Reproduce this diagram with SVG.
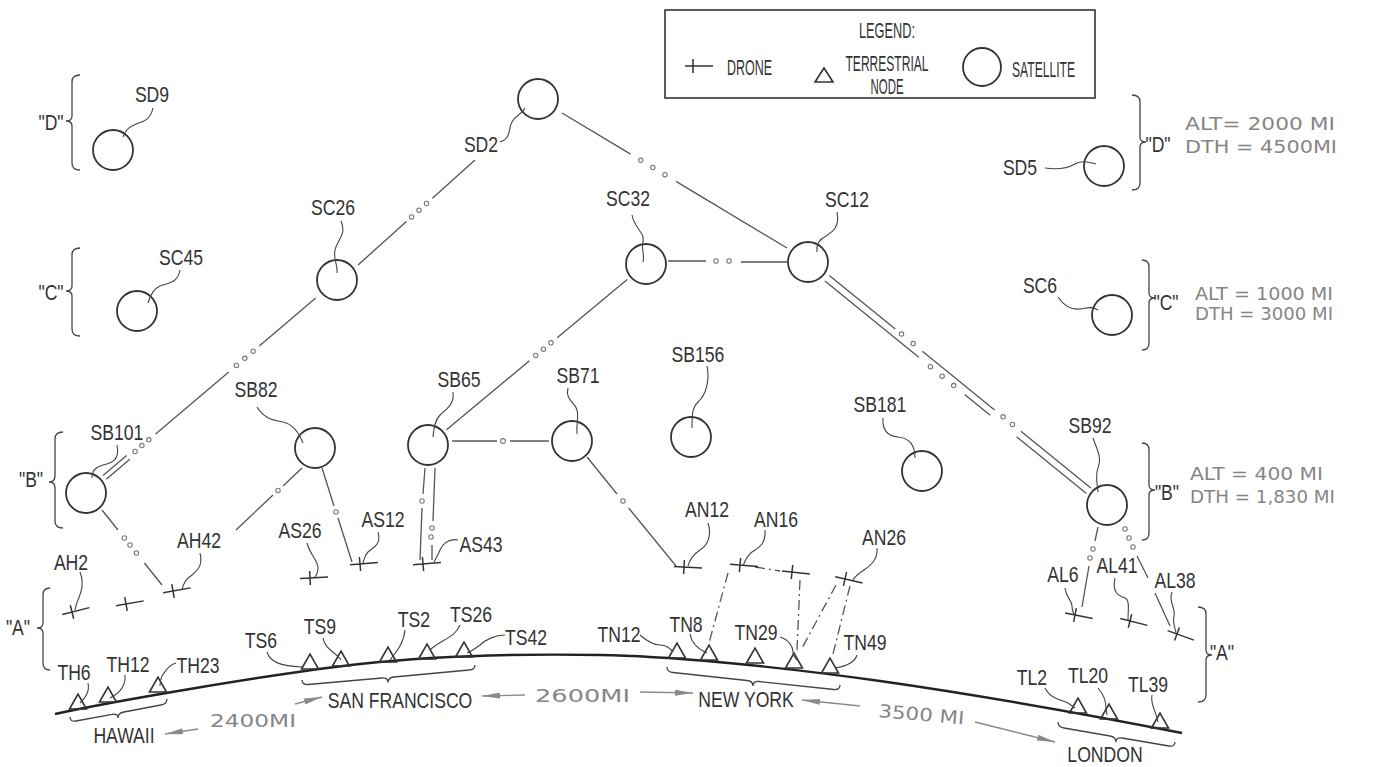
<svg xmlns="http://www.w3.org/2000/svg" width="1377" height="767" viewBox="0 0 1377 767">
<style>
text{font-family:"Liberation Sans",Arial,sans-serif;font-size:22px;fill:#333;text-anchor:middle}
text:not(.hw):not(.lg){transform-box:fill-box;transform-origin:50% 50%;transform:scaleX(0.8)}
.st{text-anchor:start}
.hw{font-family:"DejaVu Sans","Liberation Sans",sans-serif;font-size:18px;fill:#858585;text-anchor:start}
.sat{fill:none;stroke:#333;stroke-width:1.8}
.ln{fill:none;stroke:#555;stroke-width:1.3}
.ld{fill:none;stroke:#444;stroke-width:1.1}
.dot{fill:none;stroke:#777;stroke-width:1.1}
.tri{fill:none;stroke:#333;stroke-width:1.6}
.dr{fill:none;stroke:#333;stroke-width:1.5}
.br{fill:none;stroke:#444;stroke-width:1.3}
.dd{fill:none;stroke:#555;stroke-width:1.3;stroke-dasharray:10 4 2 4}
.earth{fill:none;stroke:#222;stroke-width:2.4}
.arr{fill:none;stroke:#8a8a8a;stroke-width:1.4}
</style>
<defs>
<path id="drone" d="M-10,0 H18 M0,-7 V7"/>
<path id="tri" d="M-8.5,0 L0,-15 L8.5,0 Z"/>
<marker id="ah" viewBox="0 0 18 6" refX="18" refY="3" markerWidth="18" markerHeight="6" orient="auto" markerUnits="userSpaceOnUse"><path d="M0,0 L18,3 L0,6 Z" fill="#8a8a8a"/></marker>
</defs>
<rect width="1377" height="767" fill="#fff"/>

<g id="legend">
<rect x="665" y="10" width="430" height="88" fill="none" stroke="#333" stroke-width="1.6"/>
<text class="lg" x="887" y="38" textLength="56" lengthAdjust="spacingAndGlyphs">LEGEND:</text>
<path class="dr" d="M685,66 H713 M693,59 V73"/>
<text class="lg st" x="727" y="75" textLength="45" lengthAdjust="spacingAndGlyphs">DRONE</text>
<path class="tri" d="M815,82 L824,68 L833,82 Z"/>
<text class="lg" x="887" y="71" textLength="83" lengthAdjust="spacingAndGlyphs">TERRESTRIAL</text>
<text class="lg" x="887" y="94" textLength="33" lengthAdjust="spacingAndGlyphs">NODE</text>
<circle class="sat" cx="982" cy="67" r="19"/>
<text class="lg st" x="1012" y="77" textLength="63" lengthAdjust="spacingAndGlyphs">SATELLITE</text>
</g>

<g id="connectors">
<path class="ln" d="M358,265 L406.4,221.6 M432.4,198.2 L475,160"/>
<circle class="dot" cx="411.6" cy="216.9" r="2.2"/><circle class="dot" cx="419" cy="210.2" r="2.2"/><circle class="dot" cx="426.5" cy="203.5" r="2.2"/>
<path class="ln" d="M562,113 L630.6,154.1 M676,181.4 L787,248"/>
<circle class="dot" cx="640.8" cy="160.3" r="2.2"/><circle class="dot" cx="652.8" cy="167.5" r="2.2"/><circle class="dot" cx="664.9" cy="174.7" r="2.2"/>
<path class="ln" d="M668,261 H706 M741,262 H787"/>
<circle class="dot" cx="716" cy="261" r="2.2"/><circle class="dot" cx="729" cy="261" r="2.2"/>
<path class="ln" d="M829.3,275.5 L895.3,329.1 M922.4,351.2 L994.6,409.9 M1020.9,431.3 L1090.8,488.1 M824.9,280.9 L918.8,357.2 M964.6,394.5 L990.2,415.3 M1016.6,436.7 L1086.4,493.5"/>
<circle class="dot" cx="901.5" cy="334.1" r="2.2"/><circle class="dot" cx="913.1" cy="343.6" r="2.2"/>
<circle class="dot" cx="1003.1" cy="416.8" r="2.2"/><circle class="dot" cx="1012.4" cy="424.4" r="2.2"/>
<circle class="dot" cx="930.4" cy="366.7" r="2.2"/><circle class="dot" cx="942.1" cy="376.2" r="2.2"/><circle class="dot" cx="953.7" cy="385.6" r="2.2"/>
<path class="ln" d="M315.7,298.1 L259.3,346 M228.8,371.9 L155.6,434 M126.6,455.4 L103,475.4 M129.8,459.2 L106.2,479.2"/>
<circle class="dot" cx="253.2" cy="351.2" r="2.2"/><circle class="dot" cx="244.8" cy="358.3" r="2.2"/><circle class="dot" cx="236.4" cy="365.4" r="2.2"/>
<circle class="dot" cx="148.8" cy="439.8" r="2.2"/><circle class="dot" cx="141.9" cy="445.6" r="2.2"/><circle class="dot" cx="135.1" cy="451.5" r="2.2"/>
<path class="ln" d="M102,510 L118,530 M144.4,563 L162,585"/>
<circle class="dot" cx="124.4" cy="538" r="2.2"/><circle class="dot" cx="130" cy="545" r="2.2"/><circle class="dot" cx="136.4" cy="553" r="2.2"/>
<path class="ln" d="M302,468 L283,486 M273,495 L236,530"/>
<circle class="dot" cx="278" cy="490.5" r="2.2"/>
<path class="ln" d="M322,468 L334,506 M338,518 L352,562"/>
<circle class="dot" cx="336" cy="512" r="2.2"/>
<path class="ln" d="M446.5,429.7 L529.5,360.7 M557.2,337.7 L627.2,279.5"/>
<circle class="dot" cx="535.7" cy="355.5" r="2.2"/><circle class="dot" cx="543.4" cy="349.2" r="2.2"/><circle class="dot" cx="551" cy="342.8" r="2.2"/>
<path class="ln" d="M452,441 H497 M510,441 H549"/>
<circle class="dot" cx="503" cy="441" r="2.4"/>
<path class="ln" d="M425,468 L423,494 M422,508 L420,560 M435,468 L433,521 M432,545 L432,560"/>
<circle class="dot" cx="422" cy="501" r="2.2"/><circle class="dot" cx="432" cy="528" r="2.2"/><circle class="dot" cx="431" cy="537" r="2.2"/>
<path class="ln" d="M587,457 L617,494 M628.7,508 L676,566"/>
<circle class="dot" cx="623" cy="501" r="2.2"/>
<path class="dd" d="M728,573 L709,643 M755,567 L780,571 M800,580 L797,650 M836,585 L801,650 M850,586 L832,658"/>
<path class="ln" d="M1098,527 L1095,541 M1089,566 L1082,607"/>
<circle class="dot" cx="1093" cy="549" r="2.2"/><circle class="dot" cx="1090" cy="558" r="2.2"/>
<path class="ln" d="M1137,556 L1148,578 M1155,593 L1170,626"/>
<circle class="dot" cx="1125" cy="529" r="2.2"/><circle class="dot" cx="1129" cy="538" r="2.2"/><circle class="dot" cx="1133" cy="547" r="2.2"/>
</g>

<g id="SD9"><circle class="sat" cx="113" cy="150" r="20"/><text x="152" y="102">SD9</text><path class="ld" d="M153,108 C150,122 140,122 134,125 C127,128 125,132 123,137"/></g>
<g id="SC45"><circle class="sat" cx="137" cy="311" r="20"/><text x="181" y="265">SC45</text><path class="ld" d="M180,270 C178,283 168,283 160,286 C153,289 150,296 148,303"/></g>
<g id="SC26"><circle class="sat" cx="337" cy="280" r="20"/><text x="333" y="215">SC26</text><path class="ld" d="M341,221 C347,235 337,240 335,250 C333,260 338,264 337,273"/></g>
<g id="SD2"><circle class="sat" cx="538" cy="99" r="20"/><text x="481" y="152">SD2</text><path class="ld" d="M500,142 C512,138 508,128 512,122 C515,115 522,115 525,108"/></g>
<g id="SC32"><circle class="sat" cx="646" cy="264" r="20"/><text x="628" y="206">SC32</text><path class="ld" d="M632,215 C634,228 645,232 643,242 C641,250 645,255 643,262"/></g>
<g id="SC12"><circle class="sat" cx="808" cy="262" r="20"/><text x="847" y="207">SC12</text><path class="ld" d="M837,212 C840,228 832,232 826,236 C818,240 816,245 817,252"/></g>
<g id="SD5"><circle class="sat" cx="1104" cy="166" r="20"/><text x="1020" y="175">SD5</text><path class="ld" d="M1045,168 C1058,170 1068,168 1075,164 C1082,160 1088,162 1096,164"/></g>
<g id="SC6"><circle class="sat" cx="1112" cy="315" r="20"/><text x="1040" y="293">SC6</text><path class="ld" d="M1058,297 C1064,306 1072,310 1080,309 C1088,308 1092,306 1098,310"/></g>
<g id="SB101"><circle class="sat" cx="86" cy="493" r="20"/><text x="117" y="440">SB101</text><path class="ld" d="M117,445 C120,460 112,463 103,465 C96,467 92,470 92,478"/></g>
<g id="SB82"><circle class="sat" cx="315" cy="448" r="20"/><text x="256" y="397">SB82</text><path class="ld" d="M257,407 C265,420 275,420 283,422 C292,424 298,430 303,443"/></g>
<g id="SB65"><circle class="sat" cx="428" cy="445" r="20"/><text x="459" y="387">SB65</text><path class="ld" d="M453,392 C455,405 445,410 440,415 C435,420 434,428 433,437"/></g>
<g id="SB71"><circle class="sat" cx="572" cy="441" r="20"/><text x="578" y="383">SB71</text><path class="ld" d="M568,388 C565,400 575,402 577,410 C579,418 576,425 577,434"/></g>
<g id="SB156"><circle class="sat" cx="691" cy="437" r="20"/><text x="698" y="362">SB156</text><path class="ld" d="M707,366 C710,380 706,395 698,402 C692,408 692,415 692,428"/></g>
<g id="SB181"><circle class="sat" cx="922" cy="471" r="20"/><text x="880" y="412">SB181</text><path class="ld" d="M883,418 C882,430 888,436 898,437 C910,438 915,445 915,458"/></g>
<g id="SB92"><circle class="sat" cx="1107" cy="505" r="20"/><text x="1090" y="433">SB92</text><path class="ld" d="M1093,438 C1098,452 1102,458 1098,468 C1095,476 1097,482 1098,492"/></g>

<g id="AH2"><use href="#drone" class="dr" transform="translate(72,612) rotate(-14)"/><text x="71" y="570">AH2</text><path class="ld" d="M80,572 C85,585 80,595 78,600 C76,604 76,606 75,610"/></g>
<g id="drone-h"><use href="#drone" class="dr" transform="translate(126,604) rotate(-10)"/></g>
<g id="AH42"><use href="#drone" class="dr" transform="translate(173,591) rotate(-10)"/><text x="199" y="548">AH42</text><path class="ld" d="M200,553 C203,565 198,570 192,575 C186,579 183,583 182,590"/></g>
<g id="AS26"><use href="#drone" class="dr" transform="translate(310,578) rotate(-3)"/><text x="300" y="538">AS26</text><path class="ld" d="M307,543 C310,555 318,560 318,568 C318,573 316,576 314,578"/></g>
<g id="AS12"><use href="#drone" class="dr" transform="translate(360,564) rotate(-5)"/><text x="383" y="527">AS12</text><path class="ld" d="M378,532 C382,545 372,548 368,552 C364,556 364,560 363,563"/></g>
<g id="AS43"><use href="#drone" class="dr" transform="translate(423,564) rotate(-5)"/><text x="481" y="552">AS43</text><path class="ld" d="M458,540 C448,538 442,545 440,550 C438,555 436,558 434,562"/></g>
<g id="AN12"><use href="#drone" class="dr" transform="translate(684,567) rotate(3)"/><text x="707" y="517">AN12</text><path class="ld" d="M708,523 C712,535 708,545 700,550 C694,554 690,558 688,566"/></g>
<g id="AN16"><use href="#drone" class="dr" transform="translate(740,565) rotate(5)"/><use href="#drone" class="dr" transform="translate(792,572) rotate(6)"/><text x="776" y="527">AN16</text><path class="ld" d="M765,530 C766,545 758,548 752,552 C747,556 745,560 743,566"/></g>
<g id="AN26"><use href="#drone" class="dr" transform="translate(845,579) rotate(13)"/><text x="884" y="545">AN26</text><path class="ld" d="M877,548 C878,560 870,566 864,570 C858,574 855,576 853,580"/></g>
<g id="AL6"><use href="#drone" class="dr" transform="translate(1075,615) rotate(11)"/><text x="1063" y="582">AL6</text><path class="ld" d="M1065,588 C1066,598 1072,600 1072,606 C1072,610 1073,612 1074,615"/></g>
<g id="AL41"><use href="#drone" class="dr" transform="translate(1130,621) rotate(14)"/><text x="1117" y="573">AL41</text><path class="ld" d="M1115,578 C1112,592 1118,596 1125,598 C1130,600 1128,610 1128,620"/></g>
<g id="AL38"><use href="#drone" class="dr" transform="translate(1177,634) rotate(20)"/><text x="1175" y="588">AL38</text><path class="ld" d="M1172,592 C1168,602 1176,608 1174,616 C1172,624 1176,628 1176,634"/></g>

<g id="earth"><path class="earth" d="M55,714 C110,702 270,674 360,664 S540,654 600,655 S760,664 880,681 S1100,717 1182,733"/></g>

<g id="TH6"><use href="#tri" class="tri" transform="translate(78,709)"/><text x="74" y="680">TH6</text><path class="ld" d="M88,683 C90,692 85,698 80,703"/></g>
<g id="TH12"><use href="#tri" class="tri" transform="translate(108,702)"/><text x="128" y="672">TH12</text><path class="ld" d="M125,675 C126,688 118,694 110,698"/></g>
<g id="TH23"><use href="#tri" class="tri" transform="translate(158,692)"/><text x="198" y="673">TH23</text><path class="ld" d="M176,663 C168,665 165,672 162,676 C160,680 160,683 160,686"/></g>
<g id="TS6"><use href="#tri" class="tri" transform="translate(310,669)"/><text x="261" y="648">TS6</text><path class="ld" d="M267,652 C270,662 280,666 302,667"/></g>
<g id="TS9"><use href="#tri" class="tri" transform="translate(341,666)"/><text x="320" y="634">TS9</text><path class="ld" d="M323,638 C325,650 336,652 341,660"/></g>
<g id="TS2"><use href="#tri" class="tri" transform="translate(388,662)"/><text x="414" y="627">TS2</text><path class="ld" d="M405,630 C404,642 398,650 390,660"/></g>
<g id="TS26"><use href="#tri" class="tri" transform="translate(427,659)"/><text x="471" y="622">TS26</text><path class="ld" d="M460,625 C455,638 440,640 430,650"/></g>
<g id="TS42"><use href="#tri" class="tri" transform="translate(464,657)"/><text x="526" y="645">TS42</text><path class="ld" d="M505,635 C495,635 485,640 480,645 C476,648 472,651 467,653"/></g>
<g id="TN12"><use href="#tri" class="tri" transform="translate(677,658)"/><text x="619" y="642">TN12</text><path class="ld" d="M640,635 C648,642 655,645 660,645 C666,645 670,648 673,652"/></g>
<g id="TN8"><use href="#tri" class="tri" transform="translate(709,660)"/><text x="686" y="632">TN8</text><path class="ld" d="M690,634 C692,645 700,650 707,653"/></g>
<g id="TN-x"><use href="#tri" class="tri" transform="translate(755,663)"/></g>
<g id="TN29"><use href="#tri" class="tri" transform="translate(794,668)"/><text x="756" y="640">TN29</text><path class="ld" d="M780,637 C790,640 793,648 793,652 C793,656 795,658 797,660"/></g>
<g id="TN49"><use href="#tri" class="tri" transform="translate(830,673)"/><text x="865" y="650">TN49</text><path class="ld" d="M857,655 C855,662 848,666 835,668"/></g>
<g id="TL2"><use href="#tri" class="tri" transform="translate(1078,713)"/><text x="1032" y="685">TL2</text><path class="ld" d="M1045,688 C1050,698 1060,700 1066,702 C1070,704 1072,706 1075,708"/></g>
<g id="TL20"><use href="#tri" class="tri" transform="translate(1109,719)"/><text x="1088" y="683">TL20</text><path class="ld" d="M1098,688 C1104,695 1106,702 1106,708 C1106,711 1107,713 1107,715"/></g>
<g id="TL39"><use href="#tri" class="tri" transform="translate(1160,728)"/><text x="1148" y="692">TL39</text><path class="ld" d="M1152,695 C1150,705 1156,710 1158,722"/></g>

<g id="cities">
<path class="br" d="M70,717 Q70,722 76,721 L112,714.3 Q118,713 118,718 Q118,713 124,712 L161,705 Q167,704 167,699"/>
<text x="124" y="743">HAWAII</text>
<path class="br" d="M302,680 Q302,685 308,684.5 L382,678 Q388,677.5 388,682.5 Q388,677.5 394,677 L469,670 Q475,670 475,665"/>
<text x="400" y="708">SAN FRANCISCO</text>
<path class="br" d="M667,667 Q667,672 673,672.5 L747,680.5 Q753,681 753,686 Q753,681 759,681.5 L834,689.5 Q840,690 840,685"/>
<text x="746" y="707">NEW YORK</text>
<path class="br" d="M1058,722 Q1058,727 1064,728 L1110,736 Q1116,737 1116,742 Q1116,737 1122,738 L1169,746 Q1175,747 1175,742"/>
<text x="1105" y="762">LONDON</text>
</g>

<g id="distances">
<text class="hw" x="210" y="727" textLength="86" lengthAdjust="spacingAndGlyphs">2400MI</text>
<path class="arr" d="M198,729 L165,734" marker-end="url(#ah)"/>
<path class="arr" d="M295,704 L322,697" marker-end="url(#ah)"/>
<text class="hw" x="535" y="702" textLength="95" lengthAdjust="spacingAndGlyphs">2600MI</text>
<path class="arr" d="M525,695 L482,696" marker-end="url(#ah)"/>
<path class="arr" d="M640,692 L693,693" marker-end="url(#ah)"/>
<path class="arr" d="M860,706 L802,700" marker-end="url(#ah)"/>
<text class="hw" x="878" y="717" transform="rotate(5 878 717)" textLength="86" lengthAdjust="spacingAndGlyphs">3500 MI</text>
<path class="arr" d="M975,722 L1055,742" marker-end="url(#ah)"/>
</g>

<g id="layers">
<path class="br" d="M80,75 Q72,75 72,82 L72,116 Q72,121 66,121 Q72,121 72,126 L72,163 Q72,170 80,170"/>
<text x="51" y="130">"D"</text>
<path class="br" d="M80,248 Q72,248 72,255 L72,286 Q72,291 66,291 Q72,291 72,296 L72,329 Q72,336 80,336"/>
<text x="51" y="300">"C"</text>
<path class="br" d="M63,432 Q55,432 55,439 L55,476 Q55,482 49,482 Q55,482 55,488 L55,521 Q55,528 63,528"/>
<text x="31" y="487">"B"</text>
<path class="br" d="M50,588 Q43,588 43,595 L43,623 Q43,628 37,628 Q43,628 43,633 L43,663 Q43,670 50,670"/>
<text x="18" y="635">"A"</text>
<path class="br" d="M1132,95 Q1140,95 1140,102 L1140,137 Q1140,142 1146,142 Q1140,142 1140,147 L1140,183 Q1140,190 1132,190"/>
<text x="1158" y="152">"D"</text>
<text class="hw" x="1185" y="130" textLength="150" lengthAdjust="spacingAndGlyphs">ALT= 2000 MI</text>
<text class="hw" x="1185" y="153" textLength="152" lengthAdjust="spacingAndGlyphs">DTH = 4500MI</text>
<path class="br" d="M1142,260 Q1149,260 1149,267 L1149,293 Q1149,298 1155,298 Q1149,298 1149,303 L1149,343 Q1149,350 1142,350"/>
<text x="1166" y="310">"C"</text>
<text class="hw" x="1195" y="300" textLength="138" lengthAdjust="spacingAndGlyphs">ALT = 1000 MI</text>
<text class="hw" x="1195" y="320" textLength="138" lengthAdjust="spacingAndGlyphs">DTH = 3000 MI</text>
<path class="br" d="M1142,443 Q1149,443 1149,450 L1149,485 Q1149,490 1155,490 Q1149,490 1149,495 L1149,533 Q1149,540 1142,540"/>
<text x="1167" y="500">"B"</text>
<text class="hw" x="1190" y="480" textLength="133" lengthAdjust="spacingAndGlyphs">ALT = 400 MI</text>
<text class="hw" x="1190" y="503" textLength="145" lengthAdjust="spacingAndGlyphs">DTH = 1,830 MI</text>
<path class="br" d="M1198,607 Q1206,607 1206,614 L1206,650 Q1206,655 1212,655 Q1206,655 1206,660 L1206,695 Q1206,702 1198,702"/>
<text x="1222" y="660">"A"</text>
</g>
</svg>
